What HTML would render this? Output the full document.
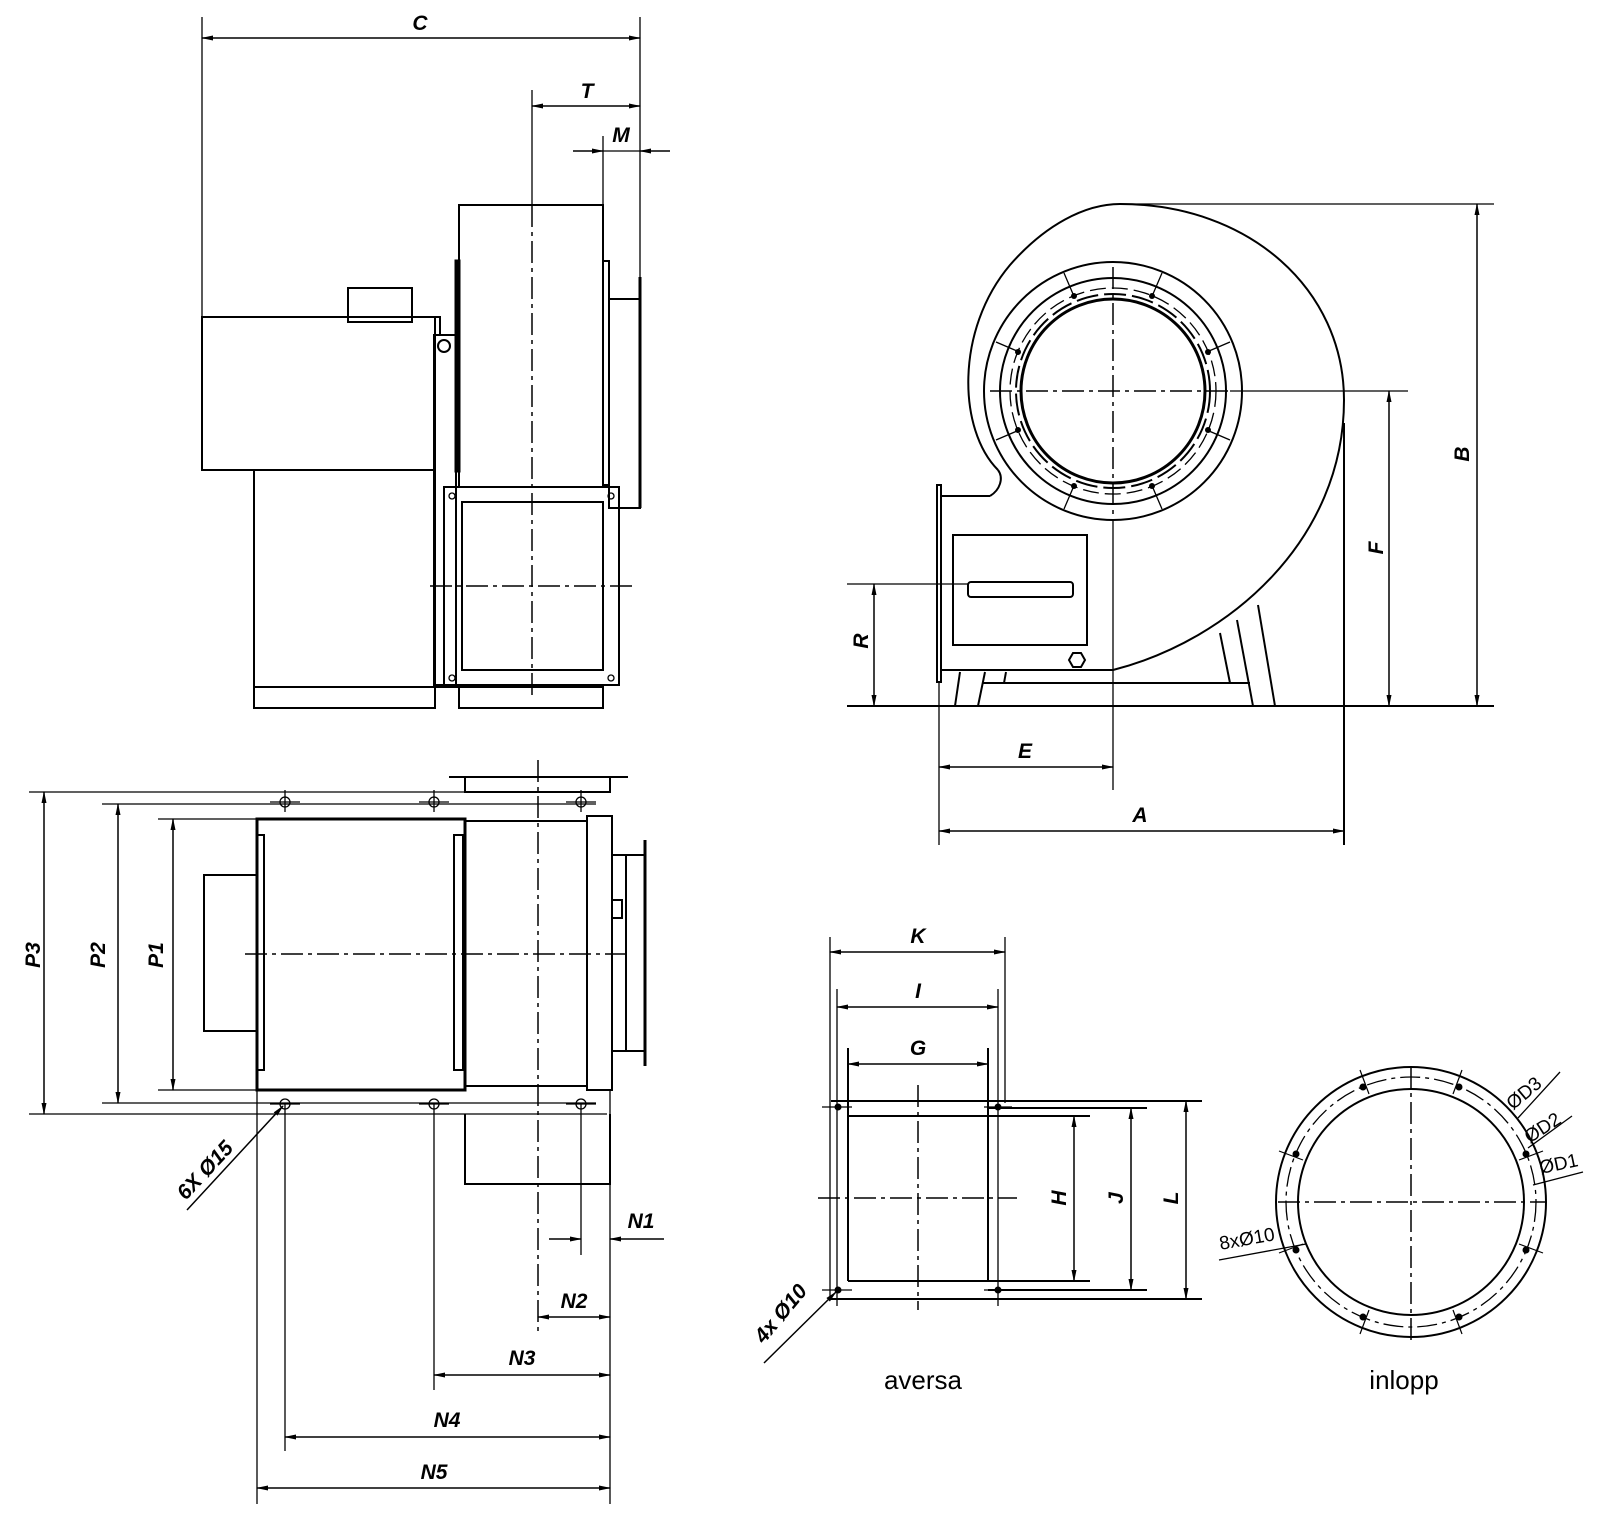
<!DOCTYPE html>
<html><head><meta charset="utf-8"><style>
html,body{margin:0;padding:0;background:#fff}
svg{display:block}
text{font-family:"Liberation Sans",sans-serif;fill:#000}
.d{font-style:italic;font-weight:bold;font-size:21px}
.s{stroke:#000;stroke-width:2;fill:none}
.t{stroke:#000;stroke-width:1.3;fill:none}
.k{stroke:#000;stroke-width:3;fill:none}
.c{stroke:#000;stroke-width:1.5;fill:none;stroke-dasharray:22 5 4 5}
.a{stroke:#000;stroke-width:1.5;fill:none;marker-start:url(#ar);marker-end:url(#ar)}
.e{stroke:#000;stroke-width:1.5;fill:none;marker-end:url(#ar)}
</style></head><body>
<svg width="1600" height="1517" viewBox="0 0 1600 1517" xmlns="http://www.w3.org/2000/svg">
<defs>
<marker id="ar" viewBox="0 0 12 6" refX="11" refY="3" markerWidth="12" markerHeight="6" markerUnits="userSpaceOnUse" orient="auto-start-reverse"><path d="M0,0.5 L12,3 L0,5.5z" fill="#000"/></marker>
</defs>

<!-- ===== Side view (top-left) ===== -->
<line class="t" x1="202" y1="17" x2="202" y2="317"/>
<line class="t" x1="640" y1="17" x2="640" y2="290"/>
<line class="a" x1="202" y1="38" x2="640" y2="38"/>
<text class="d" x="420" y="30" text-anchor="middle">C</text>
<line class="t" x1="532" y1="90" x2="532" y2="205"/>
<line class="a" x1="532" y1="106" x2="640" y2="106"/>
<text class="d" x="587" y="98" text-anchor="middle">T</text>
<line class="t" x1="603" y1="136" x2="603" y2="205"/>
<line class="e" x1="573" y1="151" x2="603" y2="151"/>
<line class="e" x1="670" y1="151" x2="640" y2="151"/>
<line class="t" x1="603" y1="151" x2="640" y2="151"/>
<text class="d" x="621" y="142" text-anchor="middle">M</text>
<!-- motor -->
<rect class="s" x="202" y="317" width="233" height="153"/>
<rect class="s" x="348" y="288" width="64" height="34"/>
<polyline class="s" points="412,317 440,317 440,335"/>
<rect class="s" x="434" y="335" width="22" height="350"/>
<circle class="s" cx="444" cy="346" r="6"/>
<!-- housing -->
<rect class="s" x="459" y="205" width="144" height="282"/>
<rect class="k" x="456" y="261" width="3" height="210"/>
<rect class="s" x="603" y="261" width="6" height="224"/>
<rect class="s" x="609" y="299" width="31" height="209"/>
<line class="k" x1="640" y1="277" x2="640" y2="508"/>
<!-- base -->
<rect class="s" x="254" y="470" width="181" height="238"/>
<line class="s" x1="254" y1="687" x2="603" y2="687"/>
<rect class="s" x="459" y="687" width="144" height="21"/>
<!-- outlet flange -->
<rect class="s" x="444" y="487" width="175" height="198"/>
<rect class="s" x="462" y="502" width="141" height="168"/>
<circle class="t" cx="452" cy="496" r="3"/><circle class="t" cx="611" cy="496" r="3"/>
<circle class="t" cx="452" cy="678" r="3"/><circle class="t" cx="611" cy="678" r="3"/>
<line class="c" x1="532" y1="205" x2="532" y2="700"/>
<line class="c" x1="430" y1="586" x2="633" y2="586"/>

<!-- ===== Top view (bottom-left) ===== -->
<line class="t" x1="29" y1="792" x2="607" y2="792"/>
<line class="t" x1="29" y1="1114" x2="607" y2="1114"/>
<line class="t" x1="102" y1="804" x2="596" y2="804"/>
<line class="t" x1="102" y1="1103" x2="596" y2="1103"/>
<line class="t" x1="158" y1="819" x2="257" y2="819"/>
<line class="t" x1="158" y1="1090" x2="257" y2="1090"/>
<line class="a" x1="44" y1="792" x2="44" y2="1114"/>
<line class="a" x1="118" y1="804" x2="118" y2="1103"/>
<line class="a" x1="173" y1="819" x2="173" y2="1090"/>
<text class="d" transform="translate(40,955) rotate(-90)" text-anchor="middle">P3</text>
<text class="d" transform="translate(105,955) rotate(-90)" text-anchor="middle">P2</text>
<text class="d" transform="translate(163,955) rotate(-90)" text-anchor="middle">P1</text>
<rect class="s" x="204" y="875" width="53" height="156"/>
<rect class="k" x="257" y="819" width="208" height="271"/>
<rect class="s" x="257" y="835" width="7" height="235"/>
<rect class="s" x="454" y="835" width="9" height="235"/>
<rect class="s" x="465" y="821" width="122" height="265"/>
<rect class="s" x="587" y="816" width="25" height="274"/>
<rect class="s" x="612" y="855" width="14" height="196"/>
<line class="k" x1="645" y1="840" x2="645" y2="1066"/>
<line class="s" x1="626" y1="855" x2="645" y2="855"/>
<line class="s" x1="626" y1="1051" x2="645" y2="1051"/>
<rect class="s" x="612" y="900" width="10" height="18"/>
<line class="s" x1="449" y1="777" x2="628" y2="777"/>
<rect class="s" x="465" y="777" width="145" height="15"/>
<polyline class="s" points="465,1114 465,1184 610,1184 610,1114"/>
<line class="c" x1="538" y1="760" x2="538" y2="1332"/>
<line class="c" x1="245" y1="954" x2="625" y2="954"/>
<!-- holes -->
<g class="t">
<circle cx="285" cy="802" r="5"/><circle cx="434" cy="802" r="5"/><circle cx="581" cy="802" r="5"/>
<circle cx="285" cy="1104" r="5"/><circle cx="434" cy="1104" r="5"/><circle cx="581" cy="1104" r="5"/>
<line x1="270" y1="802" x2="300" y2="802"/><line x1="419" y1="802" x2="449" y2="802"/><line x1="566" y1="802" x2="596" y2="802"/>
<line x1="270" y1="1104" x2="300" y2="1104"/><line x1="419" y1="1104" x2="449" y2="1104"/><line x1="566" y1="1104" x2="596" y2="1104"/>
<line x1="285" y1="790" x2="285" y2="812"/><line x1="434" y1="790" x2="434" y2="812"/><line x1="581" y1="790" x2="581" y2="812"/>
</g>
<line class="t" x1="257" y1="1090" x2="257" y2="1504"/>
<line class="t" x1="285" y1="1104" x2="285" y2="1451"/>
<line class="t" x1="434" y1="1104" x2="434" y2="1390"/>
<line class="t" x1="581" y1="1104" x2="581" y2="1255"/>
<line class="t" x1="610" y1="1090" x2="610" y2="1504"/>
<line class="e" x1="549" y1="1239" x2="581" y2="1239"/>
<line class="e" x1="664" y1="1239" x2="610" y2="1239"/>
<text class="d" x="641" y="1228" text-anchor="middle">N1</text>
<line class="a" x1="538" y1="1317" x2="610" y2="1317"/>
<text class="d" x="574" y="1308" text-anchor="middle">N2</text>
<line class="a" x1="434" y1="1375" x2="610" y2="1375"/>
<text class="d" x="522" y="1365" text-anchor="middle">N3</text>
<line class="a" x1="285" y1="1437" x2="610" y2="1437"/>
<text class="d" x="447" y="1427" text-anchor="middle">N4</text>
<line class="a" x1="257" y1="1488" x2="610" y2="1488"/>
<text class="d" x="434" y="1479" text-anchor="middle">N5</text>
<line class="e" x1="187" y1="1210" x2="283" y2="1106"/>
<text class="d" transform="translate(210,1175) rotate(-47)" text-anchor="middle">6X Ø15</text>

<!-- ===== Scroll view (right) ===== -->
<path class="s" d="M998,470 C958,430 955,330 1010,265 C1045,225 1085,204 1120,204 C1250,204 1344,290 1344,400 C1344,540 1230,640 1113,670"/>
<path class="s" d="M990,496 C1000,490 1004,478 998,470"/>
<circle class="s" cx="1113" cy="391" r="129"/>
<circle class="s" cx="1113" cy="391" r="113"/>
<circle class="s" cx="1113" cy="391" r="97" stroke-dasharray="22 6"/>
<circle class="t" cx="1113" cy="391" r="103" stroke-dasharray="16 6"/>
<circle class="k" cx="1113" cy="391" r="92"/>
<g stroke="#000" stroke-width="1.3">
<line x1="1153" y1="294" x2="1162" y2="273"/><line x1="1073" y1="294" x2="1064" y2="273"/>
<line x1="1017" y1="351" x2="996" y2="342"/><line x1="1209" y1="351" x2="1230" y2="342"/>
<line x1="1017" y1="431" x2="996" y2="440"/><line x1="1209" y1="431" x2="1230" y2="440"/>
<line x1="1153" y1="488" x2="1162" y2="509"/><line x1="1073" y1="488" x2="1064" y2="509"/>
</g>
<g fill="#000">
<circle cx="1152" cy="296" r="3"/><circle cx="1074" cy="296" r="3"/><circle cx="1018" cy="352" r="3"/><circle cx="1208" cy="352" r="3"/>
<circle cx="1018" cy="430" r="3"/><circle cx="1208" cy="430" r="3"/><circle cx="1152" cy="486" r="3"/><circle cx="1074" cy="486" r="3"/>
</g>
<line class="c" x1="990" y1="391" x2="1230" y2="391"/>
<line class="t" x1="1230" y1="391" x2="1408" y2="391"/>
<line class="c" x1="1113" y1="267" x2="1113" y2="520"/>
<line class="t" x1="1113" y1="520" x2="1113" y2="790"/>
<rect class="s" x="937" y="485" width="4" height="197"/>
<line class="s" x1="941" y1="496" x2="990" y2="496"/>
<line class="s" x1="941" y1="670" x2="1113" y2="670"/>
<rect class="s" x="953" y="535" width="134" height="110"/>
<rect class="s" x="968" y="582" width="105" height="15" rx="3"/>
<polygon class="s" points="1069,660 1073,653 1081,653 1085,660 1081,667 1073,667"/>
<line class="s" x1="983" y1="683" x2="1250" y2="683"/>
<g class="s">
<line x1="960" y1="672" x2="955" y2="706"/><line x1="985" y1="672" x2="978" y2="706"/>
<line x1="1006" y1="672" x2="1004" y2="683"/>
<line x1="1220" y1="633" x2="1230" y2="683"/><line x1="1237" y1="620" x2="1253" y2="706"/>
<line x1="1258" y1="605" x2="1275" y2="706"/>
</g>
<line class="s" x1="847" y1="706" x2="1494" y2="706"/>
<line class="s" x1="1344" y1="423" x2="1344" y2="845"/>
<line class="t" x1="939" y1="682" x2="939" y2="845"/>
<line class="t" x1="1120" y1="204" x2="1494" y2="204"/>
<line class="a" x1="1477" y1="204" x2="1477" y2="706"/>
<text class="d" transform="translate(1469,454) rotate(-90)" text-anchor="middle">B</text>
<line class="a" x1="1389" y1="391" x2="1389" y2="706"/>
<text class="d" transform="translate(1383,548) rotate(-90)" text-anchor="middle">F</text>
<line class="t" x1="847" y1="584" x2="968" y2="584"/>
<line class="a" x1="874" y1="584" x2="874" y2="706"/>
<text class="d" transform="translate(868,641) rotate(-90)" text-anchor="middle">R</text>
<line class="a" x1="939" y1="767" x2="1113" y2="767"/>
<text class="d" x="1025" y="758" text-anchor="middle">E</text>
<line class="a" x1="939" y1="831" x2="1344" y2="831"/>
<text class="d" x="1140" y="822" text-anchor="middle">A</text>

<!-- ===== aversa ===== -->
<line class="t" x1="830" y1="937" x2="830" y2="1298"/>
<line class="t" x1="1005" y1="937" x2="1005" y2="1103"/>
<line class="t" x1="837" y1="989" x2="837" y2="1306"/>
<line class="t" x1="998" y1="989" x2="998" y2="1306"/>
<line class="s" x1="848" y1="1048" x2="848" y2="1281"/>
<line class="s" x1="988" y1="1048" x2="988" y2="1281"/>
<line class="a" x1="830" y1="952" x2="1005" y2="952"/>
<text class="d" x="918" y="943" text-anchor="middle">K</text>
<line class="a" x1="837" y1="1007" x2="998" y2="1007"/>
<text class="d" x="918" y="998" text-anchor="middle">I</text>
<line class="a" x1="848" y1="1064" x2="988" y2="1064"/>
<text class="d" x="918" y="1055" text-anchor="middle">G</text>
<line class="s" x1="831" y1="1101" x2="1202" y2="1101"/>
<line class="s" x1="988" y1="1108" x2="1147" y2="1108"/>
<line class="s" x1="848" y1="1116" x2="1090" y2="1116"/>
<line class="s" x1="848" y1="1281" x2="1090" y2="1281"/>
<line class="s" x1="988" y1="1290" x2="1147" y2="1290"/>
<line class="s" x1="831" y1="1299" x2="1202" y2="1299"/>
<g class="t"><line x1="822" y1="1107" x2="852" y2="1107"/><line x1="984" y1="1107" x2="1012" y2="1107"/>
<line x1="822" y1="1290" x2="852" y2="1290"/><line x1="984" y1="1290" x2="1012" y2="1290"/></g>
<g fill="#000"><circle cx="838" cy="1107" r="3.5"/><circle cx="998" cy="1107" r="3.5"/><circle cx="838" cy="1290" r="3.5"/><circle cx="998" cy="1290" r="3.5"/></g>
<line class="c" x1="918" y1="1085" x2="918" y2="1310"/>
<line class="c" x1="818" y1="1198" x2="1017" y2="1198"/>
<line class="a" x1="1074" y1="1116" x2="1074" y2="1281"/>
<text class="d" transform="translate(1066,1198) rotate(-90)" text-anchor="middle">H</text>
<line class="a" x1="1131" y1="1108" x2="1131" y2="1290"/>
<text class="d" transform="translate(1123,1198) rotate(-90)" text-anchor="middle">J</text>
<line class="a" x1="1186" y1="1101" x2="1186" y2="1299"/>
<text class="d" transform="translate(1178,1198) rotate(-90)" text-anchor="middle">L</text>
<line class="e" x1="764" y1="1363" x2="836" y2="1292"/>
<text class="d" transform="translate(786,1318) rotate(-50)" text-anchor="middle">4x Ø10</text>
<text x="923" y="1389" font-size="26" text-anchor="middle">aversa</text>

<!-- ===== inlopp ===== -->
<circle class="s" cx="1411" cy="1202" r="135"/>
<circle class="s" cx="1411" cy="1202" r="113"/>
<circle class="t" cx="1411" cy="1202" r="125" stroke-dasharray="20 5 4 5"/>
<g stroke="#000" stroke-width="1.2">
<line x1="1453" y1="1094" x2="1462" y2="1070"/><line x1="1369" y1="1094" x2="1360" y2="1070"/>
<line x1="1303" y1="1160" x2="1279" y2="1151"/><line x1="1519" y1="1160" x2="1543" y2="1151"/>
<line x1="1303" y1="1244" x2="1279" y2="1253"/><line x1="1519" y1="1244" x2="1543" y2="1253"/>
<line x1="1453" y1="1310" x2="1462" y2="1334"/><line x1="1369" y1="1310" x2="1360" y2="1334"/>
</g>
<g fill="#000">
<circle cx="1459" cy="1087" r="3.5"/><circle cx="1363" cy="1087" r="3.5"/><circle cx="1296" cy="1154" r="3.5"/><circle cx="1526" cy="1154" r="3.5"/>
<circle cx="1296" cy="1250" r="3.5"/><circle cx="1526" cy="1250" r="3.5"/><circle cx="1459" cy="1317" r="3.5"/><circle cx="1363" cy="1317" r="3.5"/>
</g>
<line class="c" x1="1278" y1="1202" x2="1546" y2="1202"/>
<line class="c" x1="1411" y1="1066" x2="1411" y2="1342"/>
<line class="t" x1="1518" y1="1118" x2="1560" y2="1072"/>
<line class="t" x1="1528" y1="1148" x2="1572" y2="1116"/>
<line class="t" x1="1533" y1="1185" x2="1583" y2="1172"/>
<text transform="translate(1528,1098) rotate(-40)" font-size="19" text-anchor="middle">ØD3</text>
<text transform="translate(1546,1133) rotate(-33)" font-size="19" text-anchor="middle">ØD2</text>
<text transform="translate(1560,1170) rotate(-12)" font-size="19" text-anchor="middle">ØD1</text>
<line class="t" x1="1219" y1="1260" x2="1306" y2="1244"/>
<text transform="translate(1248,1245) rotate(-10)" font-size="19" text-anchor="middle">8xØ10</text>
<text x="1404" y="1389" font-size="26" text-anchor="middle">inlopp</text>
</svg>
</body></html>
